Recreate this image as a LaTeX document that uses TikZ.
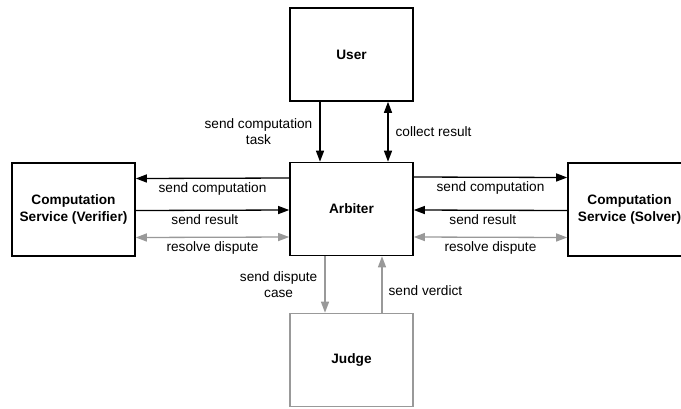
\documentclass[tikz,border=0pt]{standalone}
\usepackage{fontspec}
\setmainfont{Liberation Sans}
\usetikzlibrary{positioning,arrows.meta}
\definecolor{dgray}{HTML}{999999}

\begin{document}
\begin{tikzpicture}[x=1bp,y=-1bp,
  box/.style={draw, line width=1.6bp, minimum width=123bp, minimum height=93bp,
    align=center, font=\bfseries\fontsize{13.7}{17}\selectfont},
  lbl/.style={font=\fontsize{13.7}{15.5}\selectfont, inner sep=0pt, align=center},
  arr/.style={line width=1.3bp, -{Triangle[length=11bp,width=8bp]}},
  twoway/.style={line width=1.3bp, {Triangle[length=11bp,width=8bp]}-{Triangle[length=11bp,width=8bp]}}]
 \useasboundingbox (0,0) rectangle (681,408);
 \clip (0,0) rectangle (681,408);
 % boxes
 \node[box] (arbiter) at (351.5,209) {Arbiter};
 \node[box] (user) at (351.5,54.5) {User};
 \node[box, draw=dgray] (judge) at (351.5,360) {Judge};
 \node[box] (verifier) at (73.5,209.5) {Computation\\Service (Verifier)};
 \node[box] (solver) at (629.5,209.5) {Computation\\Service (Solver)};
 % user <-> arbiter
 \draw[arr] ([xshift=-31.5bp]user.south) -- ([xshift=-31.5bp]arbiter.north)
   node[lbl, midway, left=7bp] (task) {send computation\\task};
 \draw[twoway] ([xshift=36.5bp]user.south) -- ([xshift=36.5bp]arbiter.north)
   node[lbl, midway, right=7bp] (collect) {collect result};
 % verifier side
 \draw[arr] ([yshift=31bp]arbiter.west) -- ([yshift=31bp]verifier.east)
   node[lbl, midway, below=4bp] (vcomp) {send computation};
 \draw[arr] ([yshift=-1bp]verifier.east) -- ([yshift=-1bp]arbiter.west)
   node[lbl, pos=0.45, below=4bp] (vres) {send result};
 \draw[twoway, dgray] ([yshift=-28bp]verifier.east) -- ([yshift=-28bp]arbiter.west)
   node[lbl, midway, below=4bp, black] (vdisp) {resolve dispute};
 % solver side
 \draw[arr] ([yshift=32bp]arbiter.east) -- ([yshift=32bp]solver.west)
   node[lbl, midway, below=4bp] (scomp) {send computation};
 \draw[arr] ([yshift=-1bp]solver.west) -- ([yshift=-1bp]arbiter.east)
   node[lbl, pos=0.55, below=4bp] (sres) {send result};
 \draw[twoway, dgray] ([yshift=-28bp]arbiter.east) -- ([yshift=-28bp]solver.west)
   node[lbl, midway, below=4bp, black] (sdisp) {resolve dispute};
 % judge
 \draw[arr, dgray] ([xshift=-26.5bp]arbiter.south) -- ([xshift=-26.5bp]judge.north)
   node[lbl, midway, left=7bp, black] (case) {send dispute\\case};
 \draw[arr, dgray] ([xshift=30.5bp]judge.north) -- ([xshift=30.5bp]arbiter.south)
   node[lbl, pos=0.4, right=6bp, black] (verdict) {send verdict};
\end{tikzpicture}
\end{document}
